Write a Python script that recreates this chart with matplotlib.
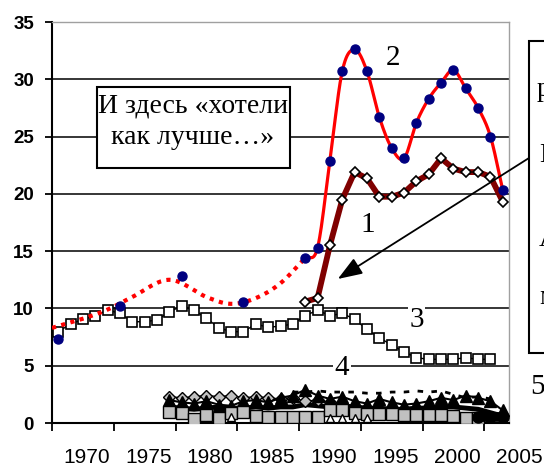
import matplotlib
matplotlib.use("Agg")
import matplotlib.pyplot as plt
from matplotlib.patches import Rectangle
import numpy as np

# series 3 (white squares), yearly 1968-2003
yrs3 = np.arange(1968, 2004)
s3 = [7.97, 8.64, 9.05, 9.34, 9.86, 9.57, 8.84, 8.84, 8.99, 9.71, 10.2, 9.86,
      9.14, 8.32, 7.97, 7.97, 8.64, 8.35, 8.46, 8.64, 9.36, 9.86, 9.36, 9.57,
      9.05, 8.17, 7.45, 6.8, 6.22, 5.7, 5.56, 5.56, 5.56, 5.7, 5.56, 5.56]

# series 2 (navy dots, red curve)
yrs2_early = [1968, 1973, 1978, 1983]
s2_early = [7.3, 10.2, 12.85, 10.6]
yrs2 = np.arange(1988, 2005)
s2 = [14.4, 15.3, 22.9, 30.7, 32.6, 30.7, 26.7, 24.0, 23.1, 26.2, 28.3, 29.7,
      30.8, 29.2, 27.5, 25.0, 20.3]
# dotted trend before 1988
yrs_trend = [1967.5, 1970, 1972, 1974, 1977, 1980, 1982, 1984, 1986, 1988]
s_trend = [8.3, 9.1, 9.9, 11.0, 12.5, 11.0, 10.4, 10.9, 12.2, 14.4]

# series 1 (dark red, diamonds)
yrs1 = np.arange(1988, 2005)
s1 = [10.6, 10.9, 15.5, 19.5, 21.9, 21.35, 19.75, 19.75, 20.1, 21.1, 21.7,
      23.1, 22.2, 21.9, 21.9, 21.5, 19.3]

# series 4/5: the small ones near zero
yrs5 = np.arange(1977, 2005)
s_diam = [2.3, 2.2, 2.3, 2.4, 2.3, 2.4, 2.2, 2.3, 2.2, 2.1, 2.2, 1.9, 2.0, 1.8, 1.7]
s_tri = [2.0, 1.8, 1.7, 1.9, 1.6, 1.5, 1.9, 2.0, 1.8, 2.2, 2.4, 2.9, 2.4, 2.1,
         2.3, 1.9, 1.7, 2.1, 1.8, 1.6, 1.7, 1.9, 2.2, 2.0, 2.4, 2.2, 1.9, 1.1]
s_band = [1.4, 1.3, 1.2, 1.3, 1.4, 1.3, 1.3, 1.4, 1.3, 1.4, 1.4, 1.6, 1.5, 1.4,
          1.5, 1.4, 1.3, 1.3, 1.2, 1.2, 1.3, 1.3, 1.4, 1.4, 1.3, 1.2, 0.9, 0.6]
s_sq = [1.0, 0.85, 0.35, 0.7, 0.45, 0.9, 1.0, 0.6, 0.55, 0.55, 0.55, 0.5, 0.5,
        1.1, 1.1, 0.9, 0.8, 0.8, 0.75, 0.7, 0.7, 0.7, 0.7, 0.6, 0.45, 0.45]
yrs_dash = np.arange(1987, 2004)
s_dash = [2.7, 2.7, 2.8, 2.7, 2.7, 2.7, 2.6, 2.6, 2.7, 2.7, 2.8, 2.7, 2.8, 2.5,
          2.2, 2.3, 2.1]
yrs_htri = [1982, 1990, 1991, 1992, 1993]
s_htri = [0.5, 0.4, 0.4, 0.4, 0.4]
yrs_blob = [2002, 2003, 2004]
s_blob = [0.5, 0.5, 0.5]

year_labels = [1970, 1975, 1980, 1985, 1990, 1995, 2000, 2005]


def smooth(x, y, n=24):
    # Catmull-Rom, like Excel's smoothed line
    x = np.asarray(x, float)
    y = np.asarray(y, float)
    px = np.concatenate([[2 * x[0] - x[1]], x, [2 * x[-1] - x[-2]]])
    py = np.concatenate([[2 * y[0] - y[1]], y, [2 * y[-1] - y[-2]]])
    t = np.linspace(0, 1, n)[:-1]
    xs, ys = [], []
    for i in range(1, len(px) - 2):
        for p, out in ((px, xs), (py, ys)):
            p0, p1, p2, p3 = p[i - 1], p[i], p[i + 1], p[i + 2]
            out.extend(0.5 * ((2 * p1) + (-p0 + p2) * t
                              + (2 * p0 - 5 * p1 + 4 * p2 - p3) * t ** 2
                              + (-p0 + 3 * p1 - 3 * p2 + p3) * t ** 3))
    xs.append(x[-1])
    ys.append(y[-1])
    return np.array(xs), np.array(ys)


W, H = 544, 470


def fx(x, y):
    return x / W, 1 - y / H


fig = plt.figure(figsize=(W / 100, H / 100), dpi=100)
ax = fig.add_axes([52 / W, 47 / H, 457 / W, 401 / H])
ax.set_xlim(1967.5, 2004.5)
ax.set_ylim(0, 35)

for v in range(5, 35, 5):
    ax.axhline(v, color="black", lw=1.1, zorder=1)

# near-zero clutter
ax.plot(yrs5, s_band, color="black", lw=3.5, zorder=2)
ax.plot(yrs_dash, s_dash, color="black", lw=2, ls=(0, (2, 3)), zorder=2)
ax.plot(yrs5[:len(s_diam)], s_diam, color="black", lw=1, marker="D", ms=6,
        mfc="#c0c0c0", mec="black", zorder=3)
ax.plot(yrs5, s_tri, color="black", lw=1.5, marker="^", ms=8,
        mfc="black", mec="black", zorder=3)
ax.plot(yrs5[:len(s_sq)], s_sq, color="black", lw=1.5, marker="s", ms=9,
        mfc="#c0c0c0", mec="black", zorder=3)
ax.plot(yrs_htri, s_htri, ls="none", marker="^", ms=6, mfc="white",
        mec="black", zorder=3)
ax.plot(yrs_blob, s_blob, color="black", lw=7, marker="o", ms=8,
        solid_capstyle="round", zorder=3)

# series 3
ax.plot(yrs3, s3, color="black", lw=1, marker="s", ms=6.5, mfc="white",
        mec="black", mew=1.2, zorder=4)

# dotted red trend and series 2
tx, ty = smooth(yrs_trend, s_trend)
ax.plot(tx, ty, color="red", lw=3, ls=(0, (1, 1.3)), zorder=5)

# series 1
ax.plot(yrs1, s1, color="#800000", lw=4.2, marker="D", ms=5.5, mfc="white",
        mec="black", mew=1.2, zorder=6)

sx, sy = smooth(yrs2, s2)
ax.plot(sx, sy, color="red", lw=2.3, zorder=7)
ax.plot(yrs2_early, s2_early, ls="none", marker="o", ms=6.5, color="#000080",
        zorder=8)
ax.plot(yrs2, s2, ls="none", marker="o", ms=6.5, color="#000080", zorder=8)

# axes styling
for side in ("top", "right"):
    ax.spines[side].set_color("#a0a0a0")
    ax.spines[side].set_linewidth(1)
for side in ("left", "bottom"):
    ax.spines[side].set_color("black")
    ax.spines[side].set_linewidth(1.5)
ax.set_yticks(range(0, 36, 5))
ax.set_yticklabels([str(v) for v in range(0, 36, 5)], fontweight="bold",
                   fontsize=13.5, family="Liberation Sans")
ax.tick_params(axis="y", length=5, width=1.3, pad=8)
ax.set_xticks(np.arange(1967.5, 2004, 5))
ax.set_xticklabels([])
ax.tick_params(axis="x", length=6, width=1.3)
for yr in year_labels:
    ax.annotate(str(yr), xy=(yr + 0.3, 0), xycoords=("data", "axes fraction"),
                xytext=(0, -24.5), textcoords="offset points", ha="center",
                va="center", fontsize=15, family="Liberation Sans",
                annotation_clip=False)

serif = "Liberation Serif"
ax.text(1995.1, 31.85, "2", fontsize=21, family=serif, ha="center", va="center",
        zorder=9)
ax.text(1993.07, 17.3, "1", fontsize=21, family=serif, ha="center", va="center",
        zorder=9)
ax.text(1997.0, 9.0, "3", fontsize=21, family=serif, ha="center", va="center",
        zorder=9, bbox=dict(fc="white", ec="none", pad=1))
ax.text(1990.96, 4.8, "4", fontsize=21, family=serif, ha="center", va="center",
        zorder=9, bbox=dict(fc="white", ec="none", pad=1))
fig.text(*fx(537, 387), "5", fontsize=21, family=serif, ha="center",
         va="center")

# left note box
x0, y0 = fx(97, 168)
fig.add_artist(Rectangle((x0, y0), 193 / W, 81 / H, transform=fig.transFigure,
                         fc="white", ec="black", lw=1.5, zorder=10))
fig.text(*fx(193, 106), "И здесь «хотели", fontsize=20, family=serif,
         ha="center", va="center", zorder=11)
fig.text(*fx(193, 137), "как лучше…»", fontsize=20, family=serif,
         ha="center", va="center", zorder=11)

# right box, cut off by the picture edge (as in the original)
x0, y0 = fx(529, 353)
fig.add_artist(Rectangle((x0, y0), 40 / W, 312 / H, transform=fig.transFigure,
                         fc="white", ec="black", lw=1.5, zorder=10))
for (px_, py_), s in zip([(537, 90), (539, 155), (539, 240), (539, 297)],
                         ["р", "К", "А", "м"]):
    fig.text(*fx(px_, py_), s, fontsize=20, family=serif, ha="left",
             va="center", zorder=11)

ax.annotate("", xy=(1990.64, 12.57), xycoords="data",
            xytext=fx(529, 158), textcoords="figure fraction",
            arrowprops=dict(arrowstyle="-|>,head_length=1.5,head_width=0.55",
                            color="black", lw=1.3, shrinkA=0, shrinkB=0),
            annotation_clip=False, zorder=12)

fig.savefig("out.png", dpi=100)
